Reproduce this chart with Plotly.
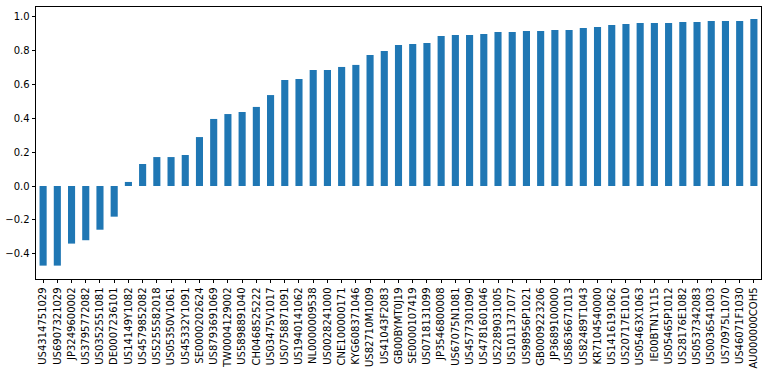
import plotly.graph_objects as go

categories = [
    "US4314751029", "US6907321029", "JP3249600002", "US3795772082", "US0352551081",
    "DE0007236101", "US14149Y1082", "US4579852082", "US5255582018", "US05350V1061",
    "US45332Y1091", "SE0000202624", "US8793691069", "TW0004129002", "US5898891040",
    "CH0468525222", "US03475V1017", "US0758871091", "US1940141062", "NL0000009538",
    "US0028241000", "CNE100000171", "KYG608371046", "US82710M1009", "US41043F2083",
    "GB00BYMT0J19", "SE0000107419", "US0718131099", "JP3546800008", "US67075N1081",
    "US4577301090", "US4781601046", "US2289031005", "US1011371077", "US98956P1021",
    "GB0009223206", "JP3689100000", "US8636671013", "US82489T1043", "KR7104540000",
    "US1416191062", "US20717E1010", "US05463X1063", "IE00BTN1Y115", "US05465P1012",
    "US28176E1082", "US0537342083", "US0036541003", "US70975L1070", "US46071F1030",
    "AU000000COH5",
]

values = [
    -0.470, -0.470, -0.340, -0.320, -0.258, -0.181, 0.024, 0.130, 0.171, 0.171,
    0.183, 0.289, 0.396, 0.425, 0.437, 0.467, 0.537, 0.626, 0.632, 0.685,
    0.685, 0.703, 0.715, 0.774, 0.797, 0.833, 0.839, 0.844, 0.886, 0.892,
    0.892, 0.898, 0.909, 0.909, 0.915, 0.915, 0.921, 0.921, 0.933, 0.939,
    0.951, 0.957, 0.963, 0.963, 0.963, 0.969, 0.969, 0.974, 0.974, 0.974,
    0.986,
]

y_ticks = [-0.4, -0.2, 0.0, 0.2, 0.4, 0.6, 0.8, 1.0]
y_tick_labels = ["\u22120.4", "\u22120.2", "0.0", "0.2", "0.4", "0.6", "0.8", "1.0"]

fig = go.Figure(
    go.Bar(x=categories, y=values, width=0.5, marker=dict(color="#1f77b4", line=dict(width=0)))
)

font = dict(family="DejaVu Sans", size=10, color="#000000")

fig.update_layout(
    width=770, height=376,
    margin=dict(l=36, r=9, t=7, b=97, autoexpand=False),
    paper_bgcolor="white", plot_bgcolor="white",
    font=font, showlegend=False,
)
fig.update_xaxes(
    type="category", range=[-0.5, len(categories) - 0.5], automargin=False,
    tickangle=-90, ticks="outside", ticklen=3.5, tickwidth=0.8, tickcolor="#000",
    showline=True, linecolor="#000", linewidth=0.8, mirror=True,
    showgrid=False, zeroline=False, tickfont=font,
)
fig.update_yaxes(
    range=[-0.549, 1.057], tickvals=y_ticks, ticktext=y_tick_labels, automargin=False,
    ticks="outside", ticklen=3.5, tickwidth=0.8, tickcolor="#000",
    showline=True, linecolor="#000", linewidth=0.8, mirror=True,
    showgrid=False, zeroline=False, tickfont=font,
)

fig.write_html(
    "out.html",
    config={"displayModeBar": False},
    post_script="document.body.style.margin='0';document.body.style.overflow='hidden';",
)
